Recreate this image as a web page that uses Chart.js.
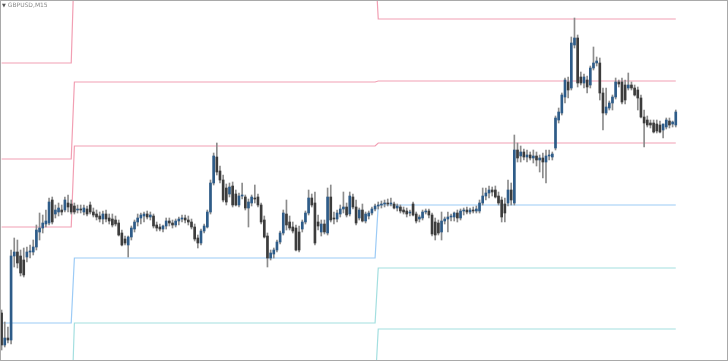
<!DOCTYPE html>
<html>
<head>
<meta charset="utf-8">
<title>GBPUSD,M15</title>
<script src="https://cdn.jsdelivr.net/npm/chart.js@4.4.1/dist/chart.umd.min.js"></script>
<style>
html, body { margin: 0; padding: 0; background: #fff; }
#wrap { position: relative; width: 728px; height: 361px; }
#title { position: absolute; left: 2px; top: 1px; font: 6px "DejaVu Sans", sans-serif; color: #8a8a8a; white-space: nowrap; }
#title span { font-size: 5px; color: #555; }
</style>
</head>
<body>
<div id="wrap">
  <canvas id="chart" width="728" height="361"></canvas>
  <div id="title"><span>&#9660;</span> GBPUSD,M15</div>
</div>
<script>
// jshint esversion: 6

// M15 candles, first bar at 18:15 of day 1
const open = [
1.2687,1.2655,1.2662,1.2660,1.2744,1.2748,1.2744,1.2740,1.2743,1.2748,
1.2748,1.2753,1.2768,1.2772,1.2776,1.2777,1.2800,1.2786,1.2788,1.2790,
1.2790,1.2797,1.2796,1.2794,1.2790,1.2791,1.2788,1.2791,1.2795,1.2788,
1.2786,1.2784,1.2781,1.2786,1.2782,1.2781,1.2780,1.2777,1.2767,1.2761,
1.2755,1.2763,1.2771,1.2778,1.2782,1.2784,1.2786,1.2783,1.2784,1.2775,
1.2773,1.2771,1.2774,1.2779,1.2777,1.2775,1.2779,1.2781,1.2782,1.2780,
1.2778,1.2773,1.2762,1.2757,1.2769,1.2773,1.2788,1.2817,1.2843,1.2829,
1.2820,1.2812,1.2806,1.2814,1.2806,1.2795,1.2804,1.2803,1.2792,1.2797,
1.2802,1.2803,1.2795,1.2780,1.2764,1.2742,1.2746,1.2750,1.2758,1.2767,
1.2786,1.2778,1.2773,1.2772,1.2768,1.2771,1.2778,1.2787,1.2802,1.2797,
1.2778,1.2768,1.2776,1.2767,1.2803,1.2782,1.2781,1.2786,1.2791,1.2793,
1.2786,1.2803,1.2793,1.2782,1.2790,1.2779,1.2784,1.2787,1.2791,1.2794,
1.2795,1.2796,1.2797,1.2796,1.2796,1.2792,1.2793,1.2790,1.2789,1.2787,
1.2796,1.2786,1.2781,1.2782,1.2788,1.2789,1.2785,1.2778,1.2777,1.2768,
1.2779,1.2781,1.2783,1.2783,1.2787,1.2782,1.2789,1.2790,1.2788,1.2790,
1.2789,1.2789,1.2797,1.2804,1.2807,1.2810,1.2810,1.2804,1.2800,1.2796,
1.2797,1.2810,1.2797,1.2850,1.2844,1.2848,1.2843,1.2845,1.2842,1.2844,
1.2840,1.2842,1.2838,1.2844,1.2843,1.2852,1.2880,1.2887,1.2903,1.2918,
1.2912,1.2955,1.2962,1.2923,1.2917,1.2920,1.2915,1.2932,1.2937,1.2937,
1.2907,1.2887,1.2892,1.2897,1.2903,1.2918,1.2918,1.2915,1.2912,1.2915,
1.2912,1.2910,1.2902,1.2883,1.2880,1.2877,1.2877,1.2876,1.2875,1.2870,
1.2873,1.2879,1.2876,1.2875
];
const high = [
1.2690,1.2678,1.2673,1.2750,1.2762,1.2760,1.2750,1.2752,1.2753,1.2755,
1.2760,1.2775,1.2787,1.2785,1.2790,1.2802,1.2803,1.2795,1.2797,1.2795,
1.2803,1.2805,1.2800,1.2797,1.2795,1.2795,1.2795,1.2794,1.2798,1.2792,
1.2790,1.2788,1.2789,1.2790,1.2786,1.2786,1.2784,1.2780,1.2770,1.2764,
1.2764,1.2774,1.2780,1.2786,1.2787,1.2788,1.2789,1.2788,1.2786,1.2778,
1.2776,1.2775,1.2782,1.2782,1.2780,1.2781,1.2783,1.2785,1.2785,1.2784,
1.2781,1.2776,1.2765,1.2771,1.2776,1.2790,1.2820,1.2847,1.2857,1.2834,
1.2825,1.2816,1.2817,1.2818,1.2810,1.2807,1.2817,1.2805,1.2801,1.2805,
1.2815,1.2806,1.2797,1.2784,1.2767,1.2750,1.2752,1.2760,1.2769,1.2790,
1.2800,1.2784,1.2778,1.2775,1.2774,1.2780,1.2789,1.2810,1.2806,1.2808,
1.2785,1.2780,1.2780,1.2812,1.2815,1.2788,1.2790,1.2795,1.2808,1.2797,
1.2808,1.2806,1.2800,1.2792,1.2796,1.2788,1.2789,1.2793,1.2796,1.2798,
1.2799,1.2800,1.2801,1.2802,1.2798,1.2796,1.2795,1.2793,1.2792,1.2790,
1.2798,1.2788,1.2785,1.2790,1.2791,1.2791,1.2787,1.2782,1.2780,1.2788,
1.2783,1.2788,1.2786,1.2788,1.2790,1.2791,1.2792,1.2793,1.2792,1.2793,
1.2794,1.2800,1.2812,1.2812,1.2814,1.2813,1.2814,1.2808,1.2803,1.2802,
1.2820,1.2817,1.2865,1.2857,1.2854,1.2851,1.2850,1.2848,1.2850,1.2848,
1.2845,1.2847,1.2850,1.2850,1.2848,1.2884,1.2892,1.2907,1.2922,1.2923,
1.2963,1.2982,1.2965,1.2928,1.2926,1.2924,1.2934,1.2953,1.2943,1.2942,
1.2912,1.2912,1.2899,1.2905,1.2922,1.2920,1.2922,1.2920,1.2927,1.2918,
1.2915,1.2913,1.2905,1.2890,1.2884,1.2880,1.2880,1.2880,1.2879,1.2876,
1.2882,1.2882,1.2879,1.2890
];
const low = [
1.2650,1.2653,1.2657,1.2656,1.2733,1.2732,1.2724,1.2723,1.2738,1.2742,
1.2745,1.2750,1.2760,1.2767,1.2773,1.2775,1.2776,1.2782,1.2784,1.2785,
1.2788,1.2788,1.2786,1.2786,1.2787,1.2787,1.2785,1.2784,1.2786,1.2783,
1.2780,1.2778,1.2776,1.2778,1.2776,1.2773,1.2774,1.2764,1.2754,1.2755,
1.2743,1.2760,1.2768,1.2774,1.2776,1.2778,1.2781,1.2780,1.2772,1.2769,
1.2769,1.2768,1.2771,1.2774,1.2772,1.2773,1.2775,1.2778,1.2777,1.2775,
1.2771,1.2759,1.2752,1.2755,1.2767,1.2772,1.2786,1.2815,1.2825,1.2817,
1.2798,1.2795,1.2803,1.2793,1.2794,1.2793,1.2801,1.2790,1.2773,1.2794,
1.2797,1.2793,1.2776,1.2762,1.2733,1.2740,1.2742,1.2748,1.2756,1.2765,
1.2770,1.2770,1.2767,1.2749,1.2748,1.2768,1.2776,1.2785,1.2793,1.2755,
1.2770,1.2764,1.2766,1.2765,1.2778,1.2776,1.2778,1.2783,1.2787,1.2783,
1.2784,1.2791,1.2775,1.2780,1.2778,1.2777,1.2781,1.2785,1.2789,1.2791,
1.2792,1.2793,1.2794,1.2794,1.2791,1.2789,1.2787,1.2786,1.2783,1.2784,
1.2784,1.2777,1.2778,1.2780,1.2786,1.2782,1.2764,1.2760,1.2765,1.2760,
1.2776,1.2768,1.2779,1.2779,1.2778,1.2780,1.2785,1.2786,1.2786,1.2787,
1.2787,1.2787,1.2795,1.2800,1.2802,1.2804,1.2802,1.2795,1.2778,1.2778,
1.2794,1.2795,1.2795,1.2838,1.2838,1.2840,1.2838,1.2840,1.2837,1.2834,
1.2828,1.2822,1.2817,1.2840,1.2840,1.2850,1.2877,1.2885,1.2897,1.2902,
1.2910,1.2952,1.2913,1.2915,1.2912,1.2907,1.2912,1.2930,1.2934,1.2900,
1.2870,1.2885,1.2890,1.2890,1.2901,1.2913,1.2896,1.2896,1.2910,1.2910,
1.2904,1.2890,1.2882,1.2853,1.2873,1.2872,1.2867,1.2867,1.2867,1.2862,
1.2871,1.2872,1.2873,1.2873
];
const close = [
1.2655,1.2662,1.2660,1.2744,1.2748,1.2737,1.2727,1.2725,1.2748,1.2749,
1.2753,1.2770,1.2772,1.2777,1.2779,1.2798,1.2778,1.2790,1.2792,1.2788,
1.2800,1.2793,1.2788,1.2788,1.2791,1.2790,1.2792,1.2786,1.2788,1.2785,
1.2783,1.2781,1.2786,1.2781,1.2779,1.2775,1.2776,1.2765,1.2755,1.2757,
1.2763,1.2772,1.2778,1.2782,1.2785,1.2786,1.2783,1.2785,1.2774,1.2772,
1.2771,1.2774,1.2779,1.2777,1.2775,1.2779,1.2781,1.2782,1.2780,1.2778,
1.2773,1.2761,1.2757,1.2769,1.2774,1.2788,1.2817,1.2844,1.2828,1.2820,
1.2800,1.2798,1.2813,1.2795,1.2795,1.2804,1.2805,1.2792,1.2798,1.2803,
1.2801,1.2795,1.2778,1.2763,1.2742,1.2747,1.2750,1.2758,1.2767,1.2787,
1.2775,1.2772,1.2769,1.2750,1.2750,1.2778,1.2787,1.2802,1.2795,1.2757,
1.2774,1.2776,1.2768,1.2803,1.2780,1.2781,1.2787,1.2791,1.2793,1.2785,
1.2804,1.2793,1.2777,1.2790,1.2779,1.2786,1.2787,1.2791,1.2794,1.2795,
1.2796,1.2797,1.2796,1.2797,1.2792,1.2794,1.2789,1.2788,1.2786,1.2788,
1.2785,1.2779,1.2783,1.2788,1.2789,1.2785,1.2766,1.2765,1.2767,1.2779,
1.2781,1.2783,1.2784,1.2787,1.2782,1.2789,1.2790,1.2788,1.2790,1.2789,
1.2791,1.2797,1.2804,1.2807,1.2810,1.2808,1.2803,1.2797,1.2783,1.2787,
1.2810,1.2800,1.2850,1.2842,1.2848,1.2843,1.2845,1.2842,1.2844,1.2840,
1.2842,1.2838,1.2844,1.2845,1.2846,1.2882,1.2888,1.2905,1.2920,1.2910,
1.2957,1.2962,1.2917,1.2917,1.2923,1.2913,1.2932,1.2937,1.2939,1.2907,
1.2887,1.2893,1.2897,1.2903,1.2918,1.2916,1.2898,1.2900,1.2915,1.2912,
1.2905,1.2902,1.2883,1.2877,1.2875,1.2875,1.2868,1.2869,1.2868,1.2876,
1.2880,1.2875,1.2878,1.2888
];

// daily pivot levels (one value per day), and the first bar of each day
const dayFirstBar = [0, 23, 119];
const r3 = [1.2937, 1.3040, 1.2981];
const r2 = [1.2841, 1.2918, 1.2919];
const r1 = [1.2773, 1.2854, 1.2857];
const s1 = [1.2677, 1.2742, 1.2795];
const s2 = [1.2580, 1.2677, 1.2732];
const s3 = [1.2480, 1.2612, 1.2671];

const emptySlots = 16;   // chart shift on the right
const firstBarMinutes = 18 * 60 + 15;

const labels = [];
for (let i = 0; i < open.length + emptySlots; i++) {
    let m = (firstBarMinutes + 15 * i) % 1440;
    labels.push(String(Math.floor(m / 60)).padStart(2, '0') + ':' + String(m % 60).padStart(2, '0'));
}

function dayOf(i) {
    let d = 0;
    dayFirstBar.forEach(function (start, k) { if (i >= start) d = k; });
    return d;
}

function levelLine(levels) {
    return labels.map(function (_, i) { return i < open.length ? levels[dayOf(i)] : null; });
}

const bullColor = '#2e5c89';
const bearColor = '#3c3c3c';
const wickColor = '#8c8c8c';
const pink = '#f29fb3';
const blue = '#9ccbf6';
const teal = '#a4dfe0';

function lineSet(name, levels, color) {
    return {
        type: 'line', label: name, data: levelLine(levels),
        borderColor: color, borderWidth: 1.2, pointRadius: 0,
        tension: 0, order: 3
    };
}

const framePlugin = {
    id: 'frame',
    afterDraw(chart) {
        const ctx = chart.ctx;
        const a = chart.chartArea;
        ctx.save();
        ctx.strokeStyle = '#a9a9a9';
        ctx.lineWidth = 1;
        ctx.strokeRect(a.left + 0.5, a.top + 0.5, a.right - a.left - 1, a.bottom - a.top - 1);
        ctx.restore();
    }
};

const ctx = document.getElementById('chart').getContext('2d');
let myChart = new Chart(ctx, {
    type: 'bar',
    data: {
        labels: labels,
        datasets: [
            lineSet('R3', r3, pink),
            lineSet('R2', r2, pink),
            lineSet('R1', r1, pink),
            lineSet('S1', s1, blue),
            lineSet('S2', s2, teal),
            lineSet('S3', s3, teal),
            {
                label: 'wick',
                data: low.map(function (l, i) { return [l, high[i]]; }),
                backgroundColor: wickColor,
                barThickness: 1,
                grouped: false,
                order: 2
            },
            {
                label: 'body',
                data: open.map(function (o, i) { return [o, close[i]]; }),
                backgroundColor: open.map(function (o, i) { return close[i] >= o ? bullColor : bearColor; }),
                barThickness: 2,
                minBarLength: 1,
                grouped: false,
                order: 1
            }
        ]
    },
    options: {
        responsive: false,
        animation: false,
        layout: { padding: 0 },
        plugins: {
            legend: { display: false },
            tooltip: { enabled: false }
        },
        scales: {
            x: { display: false, offset: true },
            y: { display: false, min: 1.2639, max: 1.3000 }
        }
    },
    plugins: [framePlugin]
});
</script>
</body>
</html>
